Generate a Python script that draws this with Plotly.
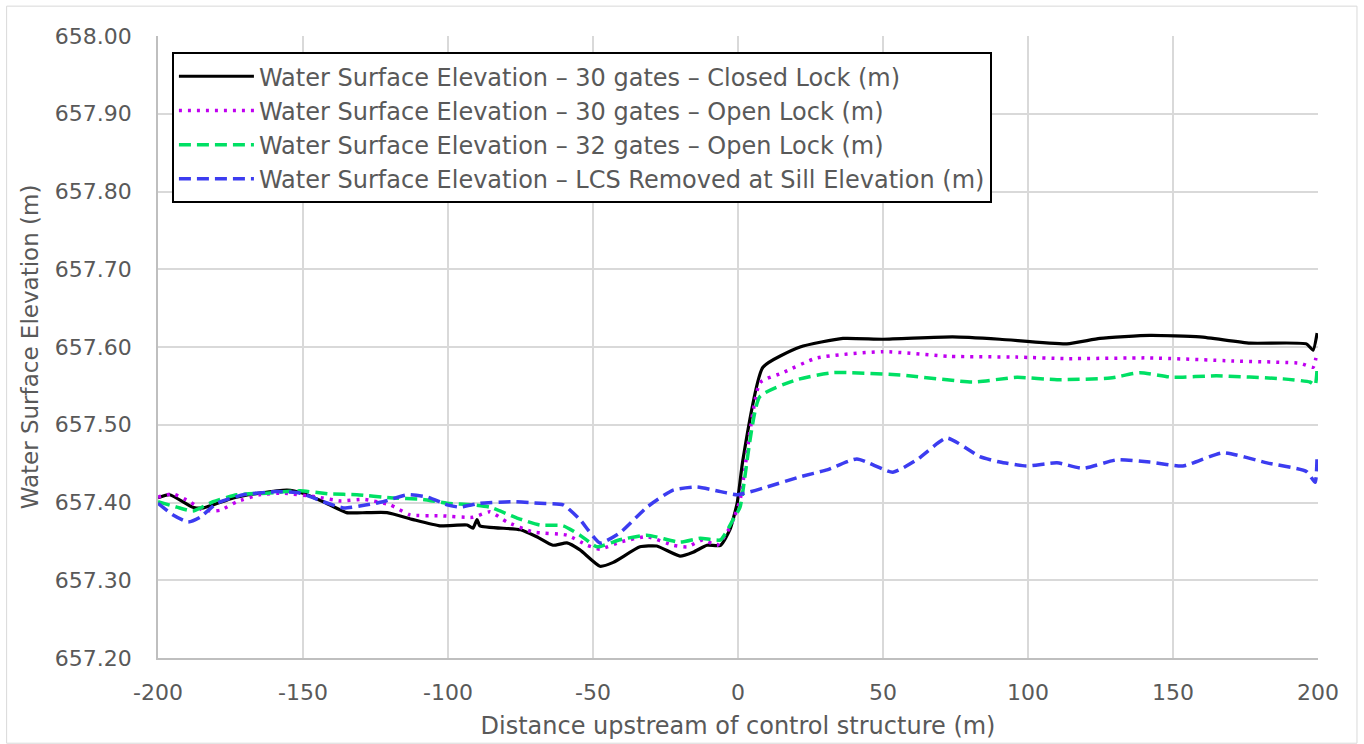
import plotly.graph_objects as go

# Closed lock, 30 gates
x_closed = [-200, -196, -188, -184.5, -174, -165, -155.5, -150, -143, -135, -128, -121, -112, -102.8,
            -93.4, -91.4, -90, -89, -75, -69.4, -63.8, -59, -54.5, -47.6, -43, -33.8, -28, -20, -15.5,
            -10.7, -6, -2.8, -0.3, 1.7, 8.6, 21.4, 36.2, 50, 74, 90.3, 113.4, 124.8, 142, 159.3, 176.6,
            196, 198.3, 199.7]
y_closed = [657.406, 657.410, 657.394, 657.393, 657.406, 657.412, 657.416, 657.412, 657.401, 657.387,
            657.387, 657.387, 657.378, 657.370, 657.371, 657.367, 657.378, 657.370, 657.365, 657.356,
            657.345, 657.348, 657.339, 657.318, 657.323, 657.343, 657.344, 657.331, 657.336, 657.345,
            657.345, 657.365, 657.399, 657.455, 657.574, 657.600, 657.611, 657.610, 657.613, 657.610,
            657.604, 657.611, 657.615, 657.613, 657.605, 657.604, 657.596, 657.618]

# Open lock, 30 gates
x_open30 = [-200, -194.8, -189, -184.5, -178.6, -172.8, -165, -157, -145, -137, -129, -120, -113, -102.8,
            -91.4, -85.5, -79.7, -70.7, -59, -52, -47.6, -40.7, -31.4, -22.4, -17.6, -12, -7.2, -2.8,
            0.7, 7.6, 15.5, 27.2, 50, 73, 96.2, 113.4, 142, 170.7, 193.8, 198.3, 199.3]
y_open30 = [657.407, 657.411, 657.401, 657.390, 657.390, 657.401, 657.410, 657.412, 657.407, 657.402,
            657.404, 657.397, 657.384, 657.383, 657.381, 657.388, 657.375, 657.362, 657.358, 657.345,
            657.340, 657.349, 657.356, 657.345, 657.343, 657.352, 657.345, 657.368, 657.403, 657.554,
            657.567, 657.586, 657.594, 657.588, 657.587, 657.585, 657.586, 657.582, 657.579, 657.574,
            657.586]

# Open lock, 32 gates
x_open32 = [-200, -193.5, -188, -181, -172.8, -162.4, -151, -140.7, -131.4, -120, -108.6, -100.3, -91.4,
            -85.5, -76.2, -68.3, -60.3, -54.5, -48.6, -40.7, -31.4, -20, -13, -6, -1.7, 0.7, 7.5, 20.3,
            32.8, 55.9, 81, 96.2, 110, 128.3, 138.6, 150, 165, 188, 197.2, 199, 199.7]
y_open32 = [657.401, 657.394, 657.389, 657.401, 657.410, 657.412, 657.415, 657.411, 657.410, 657.406,
            657.404, 657.399, 657.397, 657.394, 657.380, 657.371, 657.370, 657.358, 657.343, 657.352,
            657.358, 657.349, 657.354, 657.352, 657.378, 657.394, 657.536, 657.558, 657.567, 657.564,
            657.555, 657.561, 657.558, 657.560, 657.567, 657.561, 657.563, 657.559, 657.555, 657.551,
            657.573]

# LCS removed at sill elevation
x_lcs = [-200, -194.8, -189.6, -185.5, -179.7, -170.6, -159, -151, -143, -136, -128, -122.4, -114, -107,
         -100.3, -95.9, -89, -77.6, -68.3, -60.3, -54.5, -47.6, -40.7, -31.4, -22.4, -14.1, -6, -0.3, 10,
         21.4, 30.7, 41, 53.4, 61.7, 72, 83.4, 90.3, 99.5, 110, 119, 130.7, 142, 153.4, 167.2, 182.4, 196,
         199, 199.7]
y_lcs = [657.399, 657.384, 657.375, 657.381, 657.399, 657.410, 657.414, 657.412, 657.401, 657.393,
         657.397, 657.401, 657.410, 657.407, 657.397, 657.394, 657.399, 657.401, 657.399, 657.397,
         657.378, 657.348, 657.361, 657.394, 657.416, 657.420, 657.414, 657.410, 657.420, 657.433,
         657.442, 657.456, 657.439, 657.455, 657.483, 657.459, 657.452, 657.447, 657.451, 657.444,
         657.455, 657.452, 657.447, 657.464, 657.451, 657.440, 657.426, 657.462]

names = [
    "Water Surface Elevation \u2013 30 gates \u2013 Closed Lock (m)",
    "Water Surface Elevation \u2013 30 gates \u2013 Open Lock (m)",
    "Water Surface Elevation \u2013 32 gates \u2013 Open Lock (m)",
    "Water Surface Elevation \u2013 LCS Removed at Sill Elevation (m)",
]

x_ticks = [-200, -150, -100, -50, 0, 50, 100, 150, 200]
y_ticks = [657.2, 657.3, 657.4, 657.5, 657.6, 657.7, 657.8, 657.9, 658.0]

FONT = "DejaVu Sans, Verdana, sans-serif"
GREY = "#595959"

fig = go.Figure()
series = [
    (x_closed, y_closed, dict(color="#000000", width=3.2, dash="solid")),
    (x_open30, y_open30, dict(color="#c000f0", width=3.5, dash="3px,6px")),
    (x_open32, y_open32, dict(color="#00e064", width=3.5, dash="12px,6px")),
    (x_lcs, y_lcs, dict(color="#3c3cf0", width=3.5, dash="12px,6px")),
]
for (xs, ys, ln), nm in zip(series, names):
    fig.add_trace(go.Scatter(x=xs, y=ys, mode="lines", name=nm,
                             line=dict(shape="spline", smoothing=0.5, **ln)))

fig.update_layout(
    width=1364, height=744,
    margin=dict(l=158, r=46, t=36, b=86),
    paper_bgcolor="white", plot_bgcolor="white",
    font=dict(family=FONT, color=GREY, size=22),
    showlegend=True,
    legend=dict(x=0.012, y=0.974, xanchor="left", yanchor="top",
                bgcolor="white", bordercolor="#000000", borderwidth=2,
                font=dict(size=24, color=GREY), tracegroupgap=0,
                itemwidth=75),
    shapes=[dict(type="rect", xref="paper", yref="paper",
                 x0=-0.1305, x1=1.0336, y0=-0.137, y1=1.048,
                 line=dict(color="#d9d9d9", width=1), layer="below")],
)
fig.update_xaxes(range=[-200, 200], tickvals=x_ticks, ticktext=[str(v) for v in x_ticks],
                 automargin=False,
                 showgrid=True, gridcolor="#d9d9d9", gridwidth=1.5, zeroline=False,
                 showline=True, linecolor="#bfbfbf", linewidth=1.5,
                 ticks="outside", ticklen=14, tickcolor="rgba(0,0,0,0)",
                 tickfont=dict(size=22, color=GREY),
                 title=dict(text="Distance upstream of control structure (m)",
                            font=dict(size=24, color=GREY), standoff=13))
fig.update_yaxes(range=[657.2, 658.0], tickvals=y_ticks, ticktext=[f"{v:.2f}" for v in y_ticks],
                 automargin=False,
                 showgrid=True, gridcolor="#d9d9d9", gridwidth=1.5, zeroline=False,
                 showline=True, linecolor="#bfbfbf", linewidth=1.5,
                 ticks="outside", ticklen=20, tickcolor="rgba(0,0,0,0)",
                 tickfont=dict(size=22, color=GREY),
                 title=dict(text="Water Surface Elevation (m)",
                            font=dict(size=23, color=GREY), standoff=10))

fig.write_html("out.html")
